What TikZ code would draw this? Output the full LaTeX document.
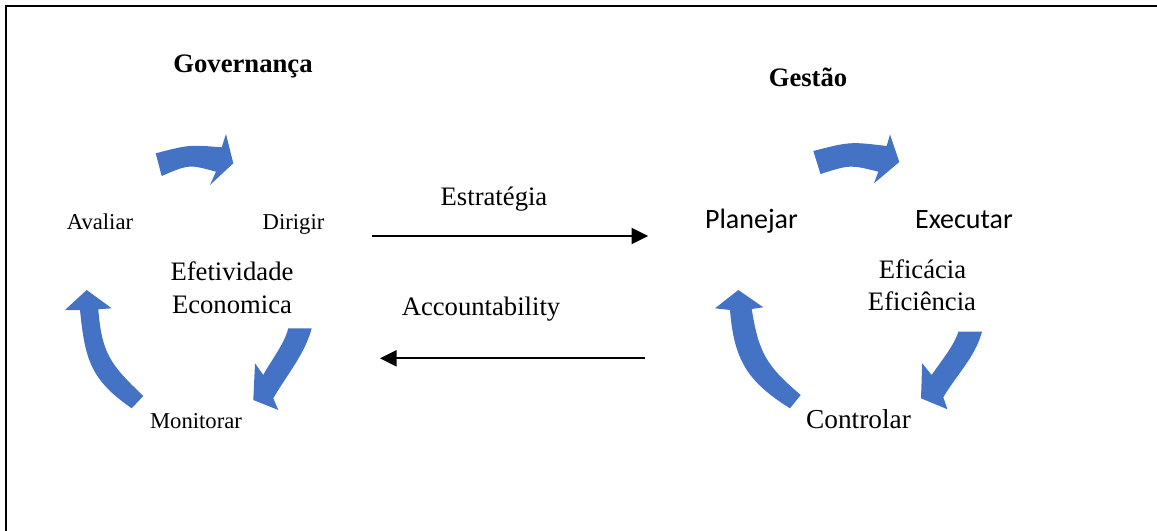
\documentclass[tikz,border=0pt]{standalone}
\usepackage{fontspec}
\setmainfont{Liberation Serif}
\newfontfamily\calib{Carlito}
\usetikzlibrary{arrows.meta}
\definecolor{cyc}{HTML}{4472C4}
\tikzset{
  lbl/.style={inner sep=0pt, anchor=base, font=\fontsize{20pt}{24pt}\selectfont},
  sml/.style={inner sep=0pt, anchor=base, font=\fontsize{17pt}{20pt}\selectfont},
  hdr/.style={inner sep=0pt, anchor=base, font=\fontsize{20pt}{24pt}\selectfont\bfseries},
  cal/.style={inner sep=0pt, anchor=base, font=\fontsize{21pt}{25pt}\selectfont\calib},
  cycarrow/.style={fill=cyc, draw=none},
  conn/.style={line width=1.6pt, -{Triangle[length=12.5pt,width=12pt]}},
  frame/.style={line width=1.5pt}
}
\begin{document}
\begin{tikzpicture}[x=0.75pt,y=-0.75pt]
\useasboundingbox (0,0) rectangle (1157,531);
% frame
\draw[frame] (6,540) -- (6,6) -- (1165,6);

% Governança cycle
\node[hdr] (gov) at (243,73) {Governança};
\node[sml] (aval) at (100,229) {Avaliar};
\node[sml] (dir) at (293.5,229) {Dirigir};
\node[sml] (mon) at (196,428) {Monitorar};
\node[lbl] (efe) at (232,281) {Efetividade};
\node[lbl] (eco) at (232,313.3) {Economica};

\fill[cycarrow] (155.7,153.3) .. controls (189,144.7) .. (221.7,147.3) -- (226,134) -- (233.3,163.3) -- (210,185) -- (216,171.7) .. controls (189,164.3) .. (161.7,176) -- cycle;
\fill[cycarrow] (288.3,328.3) -- (311.7,328.3) .. controls (304.7,354.5) and (286.8,374.8) .. (273.3,398.3) -- (278.3,410) -- (253.3,400) -- (255,363.3) -- (263.3,375) .. controls (270,362) and (284,345) .. (288.3,328.3) -- cycle;
\fill[cycarrow] (86.7,290) -- (111.7,308.3) -- (98.3,309.3) .. controls (101.9,354.3) and (110.9,365) .. (143.3,396) -- (131.7,408.3) .. controls (90.7,379.8) and (85,360) .. (80,310) -- (65,310) -- cycle;

% Gestão cycle
\node[hdr] (ges) at (808,87) {Gestão};
\node[cal] (plan) at (751.5,228.3) {Planejar};
\node[cal] (exe) at (964,228.3) {Executar};
\node[lbl] (efc) at (922.5,278.3) {Eficácia};
\node[lbl] (efi) at (922,310.7) {Eficiência};
\node[inner sep=0pt, anchor=base, font=\fontsize{20.5pt}{24pt}\selectfont] (ctl) at (858.5,428.3) {Controlar};

\fill[cycarrow] (813.3,151) .. controls (850,141.6) .. (886.7,146) -- (890,134.5) -- (899.3,162) -- (874,183.3) -- (878.3,171.7) .. controls (850.2,164.6) .. (820.5,174) -- cycle;
\fill[cycarrow] (958.3,331.7) -- (982,331.7) .. controls (975,357.5) and (957,374) .. (943.3,397.3) -- (947.5,409.3) -- (921,398.3) -- (922.2,363.3) -- (931.7,375) .. controls (941,361) and (954,346) .. (958.3,331.7) -- cycle;
\fill[cycarrow] (738.3,290) -- (763.3,307.3) -- (751.7,309) .. controls (758.9,353.6) and (766.5,365.8) .. (800.7,395) -- (790,408.3) .. controls (747.5,381.8) and (734,360) .. (730,310) -- (715,308.3) -- cycle;

% middle connectors
\node[lbl] (est) at (494,206) {Estratégia};
\node[lbl] (acc) at (481,315.5) {Accountability};
\coordinate (s1) at (372,236);
\coordinate (s2) at (648.3,236);
\coordinate (a1) at (645,358.3);
\coordinate (a2) at (380,358.3);
\draw[conn] (s1) -- (s2);
\draw[conn] (a1) -- (a2);
\end{tikzpicture}
\end{document}
